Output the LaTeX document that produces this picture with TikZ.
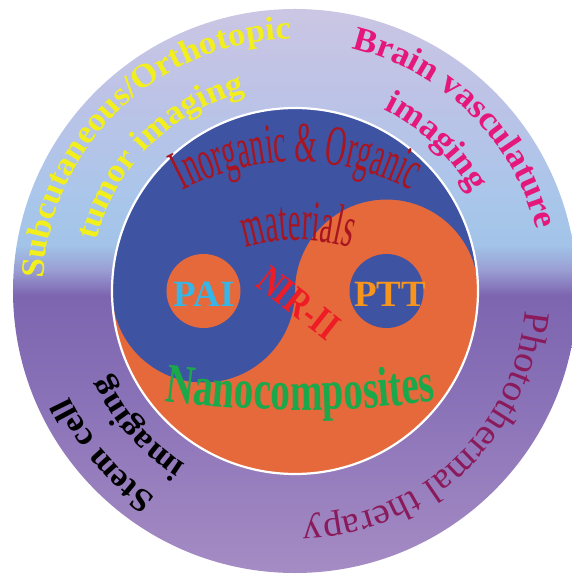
\documentclass[tikz,border=0pt]{standalone}
\usepackage{fontspec}
\setmainfont{Liberation Serif}
\newfontfamily\ringfont[FakeStretch=1.05]{Liberation Serif}
\newfontfamily\tallfont[FakeStretch=0.5]{Liberation Serif}
\newfontfamily\narrowfont[FakeStretch=0.78]{Liberation Serif}
\newfontfamily\nanofont[FakeStretch=0.7]{Liberation Serif}
\usetikzlibrary{decorations.text}

\definecolor{yinblue}{HTML}{3F53A3}
\definecolor{yangorange}{HTML}{E5693B}
\definecolor{ringtop}{HTML}{CBC6E4}
\definecolor{ringhigh}{HTML}{BCC3E6}
\definecolor{ringsky}{HTML}{A9C6EA}
\definecolor{ringskylow}{HTML}{A2C4E8}
\definecolor{ringturn}{HTML}{9A9FD4}
\definecolor{ringmid}{HTML}{7D65B0}
\definecolor{ringlow}{HTML}{8A72B8}
\definecolor{ringbottom}{HTML}{A58CC4}
\definecolor{subyellow}{HTML}{F2EF1C}
\definecolor{brainpink}{HTML}{E5177A}
\definecolor{photoplum}{HTML}{8B1A5B}
\definecolor{inorgred}{HTML}{A8141F}
\definecolor{nirred}{HTML}{EE1C25}
\definecolor{paicyan}{HTML}{35B6E6}
\definecolor{pttorange}{HTML}{F7941D}
\definecolor{nanogreen}{HTML}{1AA84B}

\pgfdeclareverticalshading{ringshade}{100bp}{color(0bp)=(ringbottom); color(25bp)=(ringbottom); color(40.3bp)=(ringlow); color(49.6bp)=(ringmid); color(51.9bp)=(ringturn); color(54.1bp)=(ringskylow); color(58.1bp)=(ringsky); color(66.9bp)=(ringhigh); color(75bp)=(ringtop); color(100bp)=(ringtop)}

\begin{document}
\begin{tikzpicture}[x=1pt, y=1pt]
		\tikzstyle{ringtext} = [decorate, decoration={text along path, text align=center}]
		\useasboundingbox (-295,-284) rectangle (276,291);
		% outer ring and yin-yang
		\shade[shading=ringshade] (0,0) circle (282);
		\fill[yangorange] (0,0) circle (183);
		\fill[yinblue] (-183,0) arc[start angle=180, end angle=0, radius=183] arc[start angle=0, end angle=180, radius=91.5] arc[start angle=0, end angle=-180, radius=91.5] -- cycle;
		\fill[yangorange] (-91.5,0) circle (37);
		\fill[yinblue] (91.5,0) circle (37);
		\draw[white, line width=2.2] (0,0) circle (183);
		% ring labels
		\path[ringtext, decoration={text={|\ringfont\bfseries\fontsize{33}{33}\selectfont\color{subyellow}|Subcutaneous/Orthotopic}}] (184:252) arc[start angle=184, end angle=84, radius=252];
		\path[ringtext, decoration={text={|\ringfont\bfseries\fontsize{33}{33}\selectfont\color{subyellow}|tumor imaging}}] (185:205) arc[start angle=185, end angle=85, radius=205];
		\path[ringtext, decoration={text={|\ringfont\bfseries\fontsize{34}{34}\selectfont\color{brainpink}|Brain vasculature}}] (95.5:249) arc[start angle=95.5, end angle=-4.5, radius=249];
		\path[ringtext, decoration={text={|\ringfont\bfseries\fontsize{34}{34}\selectfont\color{brainpink}|imaging}}] (96.5:202) arc[start angle=96.5, end angle=-3.5, radius=202];
		\path[ringtext, decoration={text={|\ringfont\fontsize{37}{37}\selectfont\color{photoplum}|Photothermal therapy}}] (3.5:231) arc[start angle=3.5, end angle=-96.5, radius=231];
		\path[ringtext, decoration={text={|\ringfont\bfseries\fontsize{33}{33}\selectfont\color{black}|Stem cell}}] (-89.5:249) arc[start angle=-89.5, end angle=-189.5, radius=249];
		\path[ringtext, decoration={text={|\ringfont\bfseries\fontsize{33}{33}\selectfont\color{black}|imaging}}] (-89:205) arc[start angle=-89, end angle=-189, radius=205];
		% inner labels
		\path[ringtext, shift={(2,-115)}, decoration={text={|\tallfont\fontsize{57}{57}\selectfont\color{inorgred}|Inorganic {\&} Organic}}] (150:244) arc[start angle=150, end angle=30, radius=244];
		\path[ringtext, shift={(3,-129)}, decoration={text={|\tallfont\fontsize{58}{58}\selectfont\color{inorgred}|materials}}] (120:180) arc[start angle=120, end angle=60, radius=180];
		\path[ringtext, shift={(5,911)}, decoration={text={|\nanofont\bfseries\fontsize{56}{56}\selectfont\color{nanogreen}|Nanocomposites}}] (255:1030) arc[start angle=255, end angle=285, radius=1030];
		\node[rotate=-38, text=nirred, font=\narrowfont\bfseries\fontsize{40}{40}\selectfont] (nir) at (3.5,-12) {NIR-II};
		\node[text=paicyan, font=\bfseries\fontsize{37}{37}\selectfont] (pai) at (-91,-3.5) {PAI};
		\node[text=pttorange, font=\bfseries\fontsize{37}{37}\selectfont] (ptt) at (95,-3.5) {PTT};
\end{tikzpicture}
\end{document}
